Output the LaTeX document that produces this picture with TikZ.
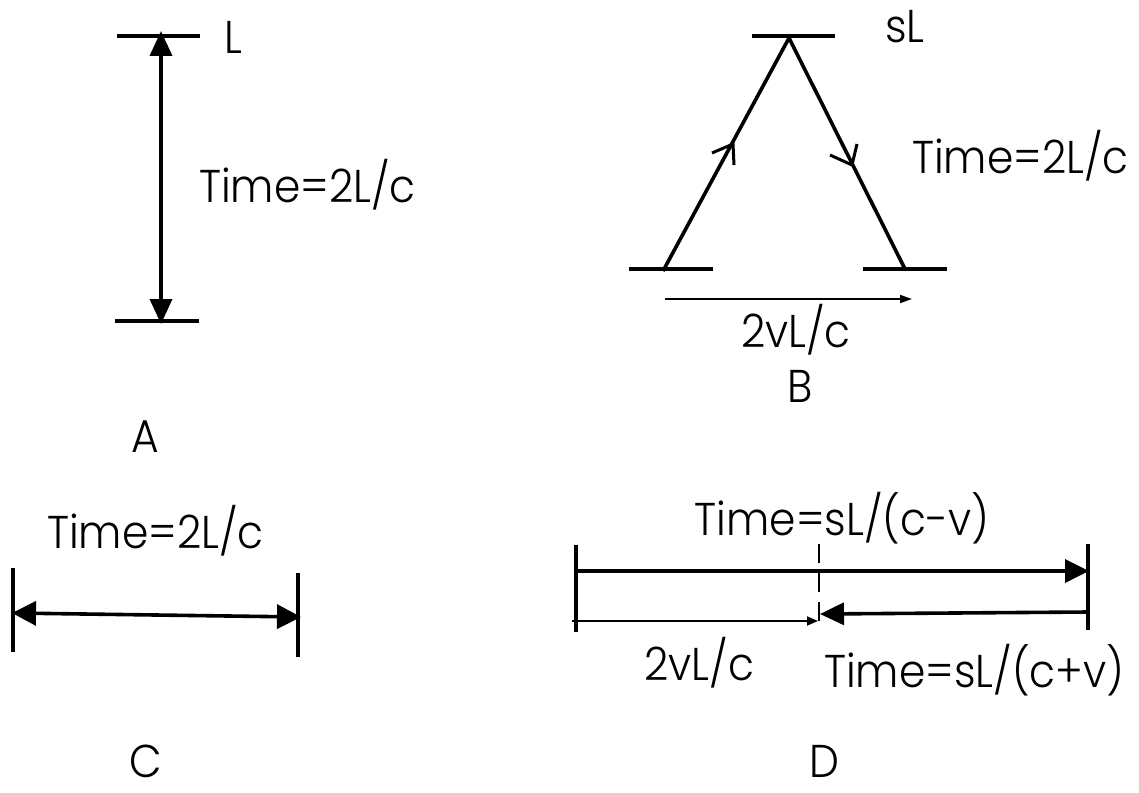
\documentclass[tikz,border=0pt]{standalone}
\usepackage{fontspec}
\IfFontExistsTF{Poppins Light}
  {\setmainfont{Poppins Light}[FakeStretch=0.92]}
  {\setmainfont{Poppins}[FakeStretch=0.92]}
\usetikzlibrary{arrows.meta}
\begin{document}
\begin{tikzpicture}[x=1pt,y=-1pt,
  bar/.style={line width=3.6pt},
  ray/.style={line width=3.6pt},
  barb/.style={line width=3pt,line join=miter},
  thin/.style={line width=1.8pt},
  lbl/.style={inner sep=0pt,font=\fontsize{46}{50}\selectfont}
]
\useasboundingbox (0,0) rectangle (1139,792);
% ---------- A ----------
\coordinate (a1) at (117,36); \coordinate (a2) at (200,36);
\coordinate (a3) at (115,321); \coordinate (a4) at (199,321);
\coordinate (atop) at (161,31); \coordinate (abot) at (161,324);
\coordinate (amid) at (161,180);
\draw[bar] (a1) -- (a2);
\draw[bar] (a3) -- (a4);
\draw[ray,-{Triangle[length=25pt,width=22pt]}] (amid) -- (atop);
\draw[ray,-{Triangle[length=25pt,width=22pt]}] (amid) -- (abot);
\node[lbl,anchor=base west] (lL) at (224,53) {L};
\node[lbl,anchor=base west] (tA) at (199,202) {Time=2L/c};
\node[lbl,anchor=base] (labA) at (145,452) {A};
% ---------- B ----------
\coordinate (b1) at (752,36); \coordinate (b2) at (835,36);
\coordinate (b3) at (629,269); \coordinate (b4) at (713,269);
\coordinate (b5) at (863,269); \coordinate (b6) at (947,269);
\coordinate (apex) at (789,38);
\coordinate (bl) at (663,271); \coordinate (br) at (905,269);
\coordinate (t1) at (665,299); \coordinate (t2) at (912,299);
\coordinate (m1) at (733,144); \coordinate (m1a) at (712,153); \coordinate (m1b) at (734,165);
\coordinate (m2) at (852,165); \coordinate (m2a) at (830,155); \coordinate (m2b) at (857,144);
\draw[bar] (b1) -- (b2);
\draw[bar] (b3) -- (b4);
\draw[bar] (b5) -- (b6);
\draw[ray] (bl) -- (apex);
\draw[ray] (apex) -- (br);
\draw[barb] (m1a) -- (m1) -- (m1b);
\draw[barb] (m2a) -- (m2) -- (m2b);
\draw[thin,-{Triangle[length=12pt,width=8pt]}] (t1) -- (t2);
\node[lbl,anchor=base west] (sL) at (885,42) {sL};
\node[lbl,anchor=base west] (tB) at (912,173) {Time=2L/c};
\node[lbl,anchor=base] (vB) at (796,347) {2vL/c};
\node[lbl,anchor=base] (labB) at (800,402) {B};
% ---------- C ----------
\coordinate (c1) at (13,568); \coordinate (c2) at (13,652);
\coordinate (c3) at (298,573); \coordinate (c4) at (298,657);
\coordinate (cl) at (12,613); \coordinate (cr) at (301,617);
\coordinate (cm) at (156,615);
\draw[bar] (c1) -- (c2);
\draw[bar] (c3) -- (c4);
\draw[ray,-{Triangle[length=24pt,width=24pt]}] (cm) -- (cl);
\draw[ray,-{Triangle[length=24pt,width=24pt]}] (cm) -- (cr);
\node[lbl,anchor=base west] (tC) at (47,548) {Time=2L/c};
\node[lbl,anchor=base] (labC) at (146,777) {C};
% ---------- D ----------
\coordinate (d1) at (576,545); \coordinate (d2) at (576,632);
\coordinate (d3) at (1088,544); \coordinate (d4) at (1088,630);
\coordinate (d5) at (819,544); \coordinate (d6) at (819,626);
\coordinate (ds) at (576,571); \coordinate (de) at (1089,571);
\coordinate (bs) at (1088,612); \coordinate (be) at (820,614);
\coordinate (ts) at (572,621); \coordinate (te) at (818,621);
\draw[bar] (d1) -- (d2);
\draw[bar] (d3) -- (d4);
\draw[line width=2.8pt,dash pattern=on 19pt off 10pt] (d5) -- (d6);
\draw[ray,-{Triangle[length=24pt,width=23pt]}] (ds) -- (de);
\draw[ray,-{Triangle[length=24pt,width=22pt]}] (bs) -- (be);
\draw[thin,-{Triangle[length=11pt,width=9pt]}] (ts) -- (te);
\node[lbl,anchor=base] (tD1) at (842,535) {Time=sL/(c-v)};
\node[lbl,anchor=base west] (vD) at (644,680) {2vL/c};
\node[lbl,anchor=base west] (tD2) at (824,687) {Time=sL/(c+v)};
\node[lbl,anchor=base] (labD) at (824,777) {D};
\end{tikzpicture}
\end{document}
